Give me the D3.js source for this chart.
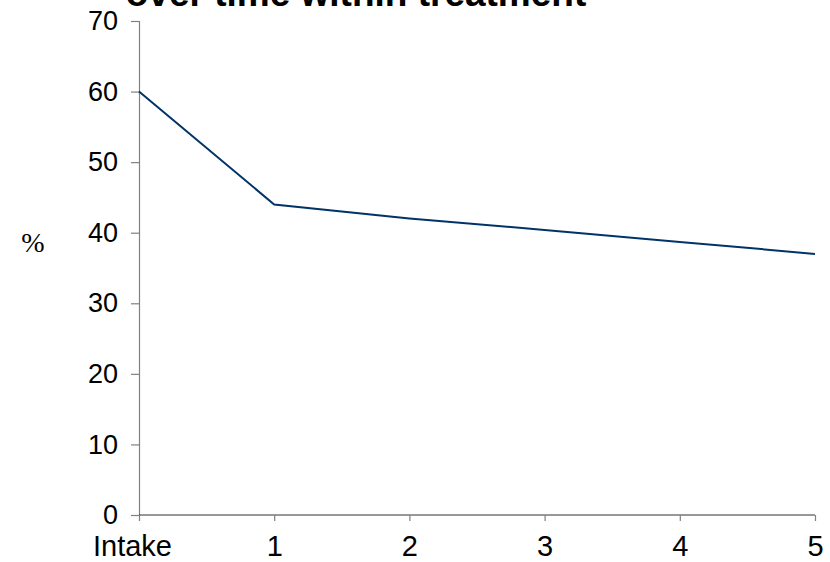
<!DOCTYPE html>
<html>
<head>
<meta charset="utf-8">
<script src="https://cdn.jsdelivr.net/npm/d3@7"></script>
<style>
  body { margin: 0; background: #fff; }
  svg { display: block; }
</style>
</head>
<body>
<svg></svg>
<script>
// Chart data
const timepoints = ["Intake", "1", "2", "3", "4", "5"];
const percentValues = [60, 44, 42, 40.4, 38.7, 37];
const yTicks = [0, 10, 20, 30, 40, 50, 60, 70];
const titleText = "over time within treatment";

const svgWidth = 830, svgHeight = 562;
const margin = { top: 21, right: 15, bottom: 47, left: 139 };
const chartWidth = svgWidth - margin.left - margin.right;
const chartHeight = svgHeight - margin.top - margin.bottom;

const svg = d3.select("svg")
    .attr("width", svgWidth)
    .attr("height", svgHeight)
    .style("font-family", "Arial, 'Liberation Sans', sans-serif");

// Title (only the bottom line shows, cut at the top edge)
svg.append("text")
    .attr("x", 356)
    .attr("y", 6)
    .attr("text-anchor", "middle")
    .style("font-size", "37px")
    .style("font-weight", "bold")
    .text(titleText);

const chart = svg.append("g")
    .attr("transform", `translate(${margin.left},${margin.top})`);

const xScale = d3.scalePoint().domain(timepoints).range([0, chartWidth]);
const yScale = d3.scaleLinear().domain([0, 70]).range([chartHeight, 0]);

// y axis
const yAxis = chart.append("g")
    .call(d3.axisLeft(yScale).tickValues(yTicks).tickSize(8).tickPadding(13));
yAxis.select(".domain").attr("stroke", "#808080").attr("stroke-width", 1.2);
yAxis.selectAll(".tick line").attr("stroke", "#808080").attr("stroke-width", 1.2);
yAxis.selectAll(".tick text")
    .style("font-size", "27px")
    .attr("fill", "#000");

// x axis
const xAxis = chart.append("g")
    .attr("transform", `translate(0,${chartHeight})`)
    .call(d3.axisBottom(xScale).tickSize(6).tickPadding(14));
xAxis.select(".domain").attr("stroke", "#333").attr("stroke-width", 1.2)
    .attr("d", `M0,0H${chartWidth}`);
xAxis.selectAll(".tick line").attr("stroke", "#808080").attr("stroke-width", 1.2);
xAxis.selectAll(".tick text")
    .style("font-size", "29px")
    .attr("fill", "#000");
// first label sits a little left of its tick
xAxis.selectAll(".tick text").filter(d => d === timepoints[0]).attr("dx", -7);

// y axis label
svg.append("text")
    .attr("x", 33)
    .attr("y", 252)
    .attr("text-anchor", "middle")
    .style("font-family", "'Times New Roman', 'Liberation Serif', serif")
    .style("font-size", "28px")
    .text("%");

// line
const line = d3.line()
    .x((d, i) => xScale(timepoints[i]))
    .y(d => yScale(d));

chart.append("path")
    .datum(percentValues)
    .attr("fill", "none")
    .attr("stroke", "#003366")
    .attr("stroke-width", 2)
    .attr("d", line);
</script>
</body>
</html>
